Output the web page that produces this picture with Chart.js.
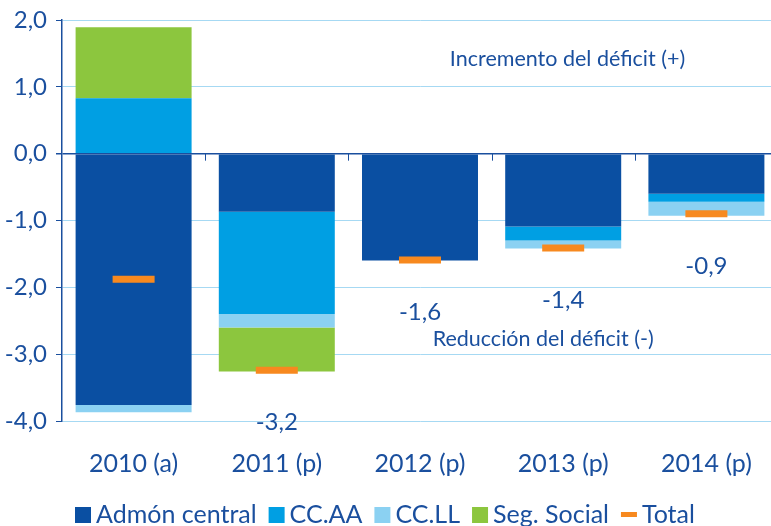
<!DOCTYPE html>
<html>
<head>
<meta charset="utf-8">
<script src="https://cdn.jsdelivr.net/npm/chart.js@4/dist/chart.umd.min.js"></script>
<style>
  html, body { margin: 0; padding: 0; background: #fff; overflow: hidden; }
  #wrap { width: 778px; height: 526px; }
</style>
</head>
<body>
<div id="wrap"><canvas id="chart"></canvas></div>
<script>
const categories = ['2010 (a)', '2011 (p)', '2012 (p)', '2013 (p)', '2014 (p)'];
const admonCentral = [-3.76, -0.87, -1.60, -1.09, -0.60];
const ccaa = [0.83, -1.53, 0, -0.21, -0.12];
const ccll = [-0.11, -0.20, 0, -0.12, -0.21];
const segSocial = [1.06, -0.66, 0, 0, 0];
const total = [-1.88, -3.24, -1.59, -1.41, -0.90];
const totalLabels = ['', '-3,2', '-1,6', '-1,4', '-0,9'];
const yTicks = [2, 1, 0, -1, -2, -3, -4];

const textColor = '#1a4f9e';
const fontFamily = 'Lato, "Open Sans", sans-serif';

// texts, zero-line ticks and legend drawn on the canvas
const extrasPlugin = {
    id: 'extras',
    afterDatasetsDraw(chart) {
        const ctx = chart.ctx;
        const x = chart.scales.x;
        const y = chart.scales.y;
        const y0 = y.getPixelForValue(0);

        ctx.save();
        // small ticks under the zero line at category borders
        ctx.strokeStyle = '#1a4f9e';
        ctx.lineWidth = 1;
        for (let i = 1; i < categories.length; i++) {
            const px = Math.round((x.getPixelForValue(i - 1) + x.getPixelForValue(i)) / 2) + 0.5;
            ctx.beginPath();
            ctx.moveTo(px, y0);
            ctx.lineTo(px, y0 + 7);
            ctx.stroke();
        }

        ctx.fillStyle = textColor;
        ctx.textAlign = 'center';
        ctx.textBaseline = 'middle';
        ctx.font = '24px ' + fontFamily;
        totalLabels.forEach((lbl, i) => {
            if (!lbl) return;
            ctx.fillText(lbl, x.getPixelForValue(i), y.getPixelForValue(total[i]) + 52);
        });

        ctx.font = '21.5px ' + fontFamily;
        ctx.fillText('Incremento del déficit (+)', x.getPixelForValue(3.03), y.getPixelForValue(1.42));
        ctx.fillText('Reducción del déficit (-)', x.getPixelForValue(2.86), y.getPixelForValue(-2.78));

        // legend
        ctx.font = '25px ' + fontFamily;
        ctx.textAlign = 'left';
        const ly = 514;
        let lx = 75;
        chart.data.datasets.forEach(ds => {
            if (ds.type === 'line') {
                ctx.fillStyle = ds.pointBorderColor;
                ctx.fillRect(lx, ly - 2, 16, 5);
                lx += 21;
            } else {
                ctx.fillStyle = ds.backgroundColor;
                ctx.fillRect(lx, ly - 7, 16, 16);
                lx += 21;
            }
            ctx.fillStyle = textColor;
            ctx.fillText(ds.label, lx, ly + 1);
            lx += ctx.measureText(ds.label).width + 12;
        });
        ctx.restore();
    }
};

new Chart(document.getElementById('chart'), {
    type: 'bar',
    data: {
        labels: categories,
        datasets: [
            { label: 'Admón central', data: admonCentral, backgroundColor: '#0a4fa2', stack: 's', order: 1 },
            { label: 'CC.AA', data: ccaa, backgroundColor: '#009fe3', stack: 's', order: 1 },
            { label: 'CC.LL', data: ccll, backgroundColor: '#8bd1f2', stack: 's', order: 1 },
            { label: 'Seg. Social', data: segSocial, backgroundColor: '#8cc63e', stack: 's', order: 1 },
            {
                label: 'Total', type: 'line', data: total, stack: 'total', order: 0,
                showLine: false, pointStyle: 'line', pointRadius: 21, pointHoverRadius: 21,
                pointBorderWidth: 7, pointHoverBorderWidth: 7,
                pointBorderColor: '#f7891f', pointBackgroundColor: '#f7891f'
            }
        ]
    },
    options: {
        responsive: true,
        maintainAspectRatio: false,
        animation: false,
        layout: { autoPadding: false, padding: { top: 20, right: 0, bottom: 45, left: 0 } },
        datasets: { bar: { barPercentage: 0.81, categoryPercentage: 1.0 } },
        plugins: {
            legend: { display: false },
            tooltip: { enabled: false }
        },
        scales: {
            x: {
                stacked: true,
                grid: { display: false },
                border: { display: false },
                ticks: { color: textColor, font: { family: fontFamily, size: 25 }, padding: 20, maxRotation: 0 },
                afterFit: scale => {
                    scale.height = 60;
                    scale.paddingLeft = 0;
                    scale.paddingRight = 0;
                }
            },
            y: {
                stacked: true,
                min: -4,
                max: 2,
                afterBuildTicks: scale => { scale.ticks = yTicks.map(v => ({ value: v })); },
                grid: {
                    color: c => c.tick && c.tick.value === 0 ? '#1a4f9e' : '#a6d9f3',
                    lineWidth: c => c.tick && c.tick.value === 0 ? 1.5 : 1,
                    tickColor: '#1a4f9e',
                    tickLength: 6
                },
                border: { color: '#1a4f9e', width: 1.5 },
                ticks: {
                    color: textColor,
                    font: { family: fontFamily, size: 24 },
                    padding: 9,
                    callback: v => v.toFixed(1).replace('.', ',')
                },
                afterFit: scale => {
                    scale.width = 62;
                    scale.paddingTop = 0;
                    scale.paddingBottom = 0;
                }
            }
        }
    },
    plugins: [extrasPlugin]
});
</script>
</body>
</html>
